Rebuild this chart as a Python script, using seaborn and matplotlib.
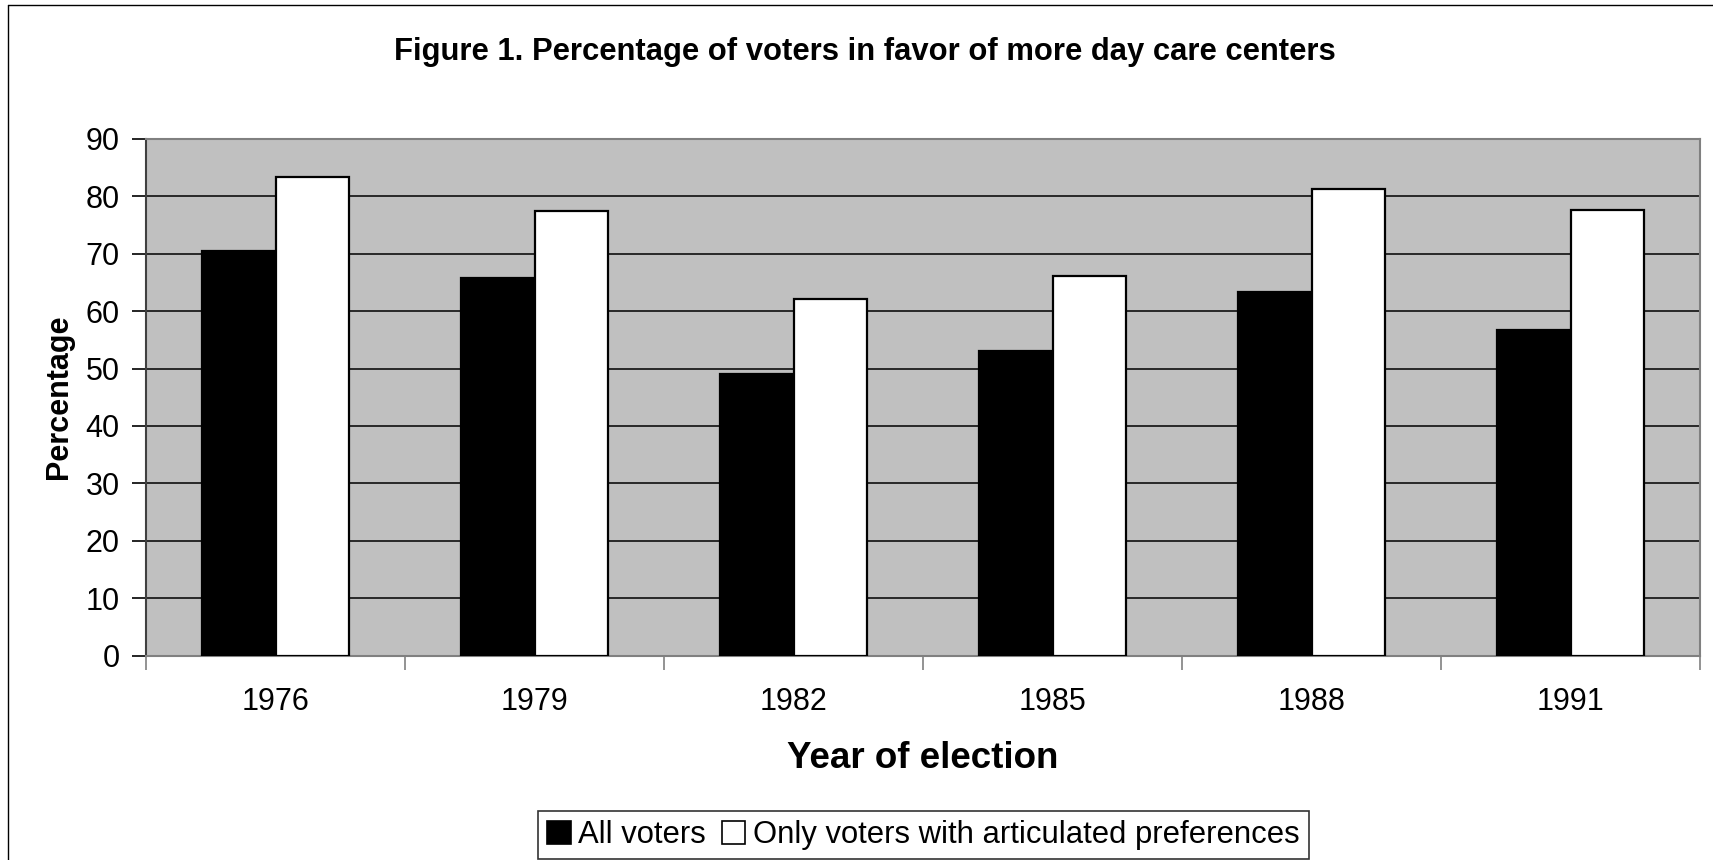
import matplotlib
matplotlib.use("Agg")
import matplotlib.pyplot as plt
import seaborn as sns
import pandas as pd
from matplotlib.patches import Patch
from matplotlib.lines import Line2D

years = ["1976", "1979", "1982", "1985", "1988", "1991"]
all_voters = [70.5, 65.7, 49.0, 53.0, 63.4, 56.7]
articulated = [83.4, 77.4, 62.1, 66.1, 81.3, 77.6]
series_names = ["All voters", "Only voters with articulated preferences"]
y_ticks = [0, 10, 20, 30, 40, 50, 60, 70, 80, 90]

df = pd.DataFrame({
    "year": years * 2,
    "value": all_voters + articulated,
    "series": [series_names[0]] * len(years) + [series_names[1]] * len(years),
})

sns.set_theme(style="white")
plt.rcParams["font.family"] = ["Liberation Sans", "DejaVu Sans"]
plt.rcParams["text.color"] = "black"
plt.rcParams["axes.labelcolor"] = "black"
plt.rcParams["xtick.color"] = "black"
plt.rcParams["ytick.color"] = "black"

fig = plt.figure(figsize=(17.13, 8.6), dpi=100)
ax = fig.add_axes([146 / 1713, 1 - 655.5 / 860, (1700 - 146) / 1713, (655.5 - 139) / 860])
ax.set_facecolor("#C0C0C0")

sns.barplot(data=df, x="year", y="value", hue="series", order=years,
            hue_order=series_names,
            palette={series_names[0]: "black", series_names[1]: "white"},
            edgecolor="black", linewidth=1.6, width=0.57, gap=0,
            ax=ax, legend=False, zorder=3)

ax.set_ylim(0, 90)
ax.set_xlim(-0.5, len(years) - 0.5)
ax.set_yticks(y_ticks)
ax.set_yticklabels([str(t) for t in y_ticks], fontsize=22)
for t in y_ticks[1:-1]:
    ax.axhline(t, color="black", lw=1.1, zorder=1)

ax.set_xticks(range(len(years)))
ax.set_xticklabels(years, fontsize=22)
ax.set_xticks([i - 0.5 for i in range(len(years) + 1)], minor=True)
ax.tick_params(axis="x", which="major", length=0, pad=23)
ax.tick_params(axis="x", which="minor", length=10, width=1.2, color="#808080", bottom=True)
ax.tick_params(axis="y", which="major", length=10, width=1.2, color="black", pad=9, left=True)

for side in ["top", "right", "bottom"]:
    ax.spines[side].set_color("#808080")
    ax.spines[side].set_linewidth(1.5)
ax.spines["left"].set_color("#404040")
ax.spines["left"].set_linewidth(1.5)

ax.set_xlabel("Year of election", fontsize=26.5, fontweight="bold", labelpad=17)
ax.set_ylabel("Percentage", fontsize=22, fontweight="bold", labelpad=8)

fig.text(0.505, 0.94, "Figure 1. Percentage of voters in favor of more day care centers",
         ha="center", va="center", fontsize=22.3, fontweight="bold")

handles = [Patch(facecolor="black", edgecolor="black", lw=1.2),
           Patch(facecolor="white", edgecolor="black", lw=1.2)]
leg = fig.legend(handles, series_names, loc="center", bbox_to_anchor=(0.539, 0.029),
                 ncol=2, fontsize=22.3, frameon=True, fancybox=False, edgecolor="black",
                 handlelength=0.75, handleheight=0.75, handletextpad=0.25,
                 columnspacing=0.5, borderpad=0.3, borderaxespad=0)
leg.get_frame().set_linewidth(1.2)

# outer chart border (top and left visible)
fig.add_artist(Line2D([8 / 1713, 1.0], [1 - 5 / 860, 1 - 5 / 860], color="black", lw=1.0,
                      transform=fig.transFigure))
fig.add_artist(Line2D([8 / 1713, 8 / 1713], [1 - 5 / 860, 0.0], color="black", lw=1.0,
                      transform=fig.transFigure))

fig.savefig("out.png", dpi=100)
